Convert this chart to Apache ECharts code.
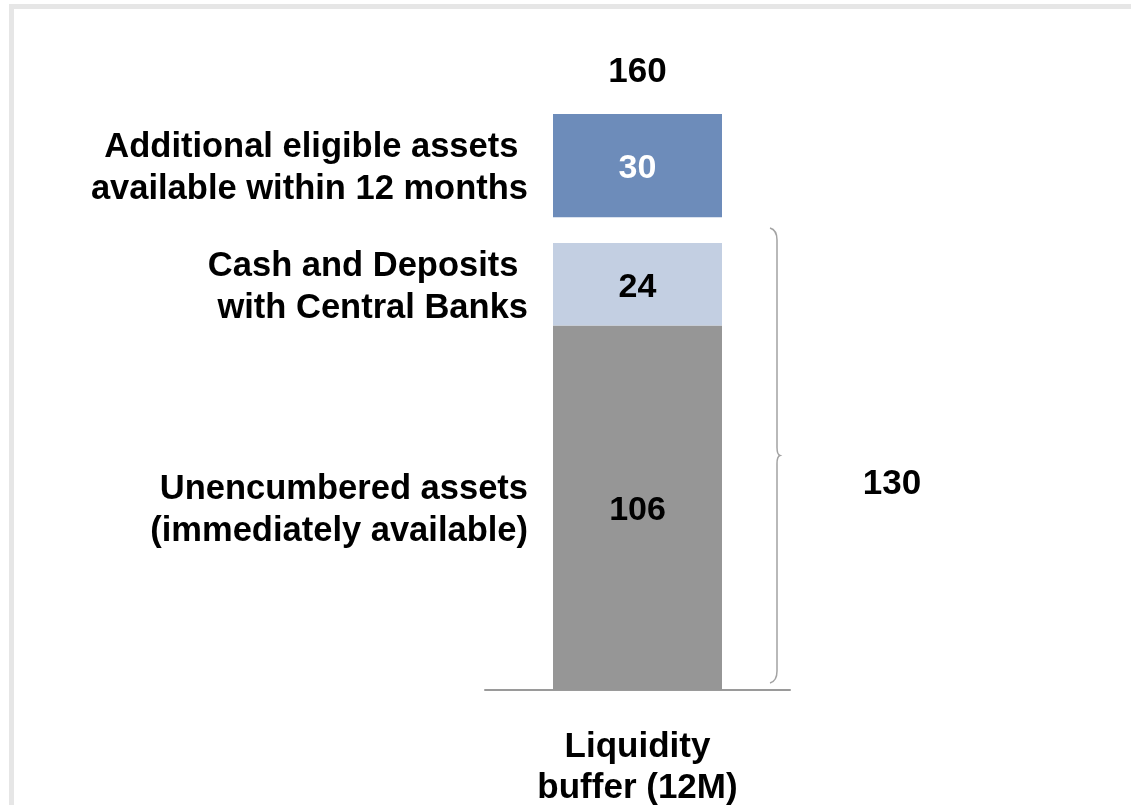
<!DOCTYPE html>
<html>
<head>
<meta charset="utf-8">
<script src="https://cdn.jsdelivr.net/npm/echarts@6/dist/echarts.min.js"></script>
<style>
  html, body { margin: 0; padding: 0; background: #fff; }
  #chart { width: 1131px; height: 805px; }
</style>
</head>
<body>
<div id="chart"></div>
<script>
// data
const categories = ['Liquidity\nbuffer (12M)']
const unencumbered = [106]
const cashDeposits = [24]
const additional = [30]
const segmentNames = [
  'Unencumbered assets\n(immediately available)',
  'Cash and Deposits \nwith Central Banks',
  'Additional eligible assets \navailable within 12 months'
]

// layout
const FONT = "'Liberation Sans', Arial, sans-serif"
const BAR_W = 169
const GAP = 7.5

const baseTotal = unencumbered.map((v, i) => v + cashDeposits[i])
const grandTotal = baseTotal.map((v, i) => v + additional[i])

const valueLabel = color => ({
  show: true,
  position: 'inside',
  offset: [0, 3],
  color: color,
  fontFamily: FONT,
  fontWeight: 'bold',
  fontSize: 34
})

const txt = (x, y, text, align, size) => ({
  type: 'text',
  style: {
    x: x, y: y + 3, text: text,
    fill: '#000',
    font: 'bold ' + size + 'px ' + FONT,
    lineHeight: 42,
    align: align,
    verticalAlign: 'middle'
  }
})

function renderNotes (params, api) {
  const i = params.dataIndex
  const c0 = api.coord([i, 0])
  const c1 = api.coord([i, unencumbered[i]])
  const c2 = api.coord([i, baseTotal[i]])
  const c3 = api.coord([i, baseTotal[i] + GAP])
  const c4 = api.coord([i, baseTotal[i] + GAP + additional[i]])
  const cx = c0[0]
  const left = cx - BAR_W / 2 - 25

  // brace
  const xb = cx + BAR_W / 2 + 55
  const yt = c2[1] - 15
  const yb = c0[1] - 7
  const ym = (yt + yb) / 2
  const d = [
    'M', xb - 7, yt, 'Q', xb, yt + 2, xb, yt + 12,
    'L', xb, ym - 8, 'Q', xb, ym - 1, xb + 3, ym,
    'Q', xb, ym + 1, xb, ym + 8,
    'L', xb, yb - 12, 'Q', xb, yb - 2, xb - 7, yb
  ].join(' ')

  return {
    type: 'group',
    children: [
      txt(left, (c0[1] + c1[1]) / 2, segmentNames[0], 'right', 34.5),
      txt(left, (c1[1] + c2[1]) / 2, segmentNames[1], 'right', 34.5),
      txt(left, (c3[1] + c4[1]) / 2, segmentNames[2], 'right', 34.5),
      txt(cx, c4[1] - 45, String(grandTotal[i]), 'center', 35),
      txt(cx + 254.5, ym + 26, String(baseTotal[i]), 'center', 35),
      {
        type: 'path',
        shape: { pathData: d },
        style: { stroke: '#a3a3a3', lineWidth: 1.5, fill: 'none' }
      }
    ]
  }
}

const chart = echarts.init(document.getElementById('chart'))
chart.setOption({
  animation: false,
  backgroundColor: '#fff',
  graphic: [
    { type: 'rect', shape: { x: 9, y: 4, width: 1122, height: 5 }, style: { fill: '#e6e6e6' } },
    { type: 'rect', shape: { x: 9, y: 4, width: 5, height: 801 }, style: { fill: '#e6e6e6' } }
  ],
  grid: { left: 485, right: 341, top: 71, bottom: 115, outerBoundsMode: 'none', containLabel: false },
  xAxis: {
    type: 'category',
    data: categories,
    axisLine: { lineStyle: { color: '#9a9a9a', width: 2 } },
    axisTick: { show: false },
    axisLabel: {
      color: '#000',
      fontFamily: FONT,
      fontWeight: 'bold',
      fontSize: 35,
      lineHeight: 41,
      margin: 37
    }
  },
  yAxis: { type: 'value', min: 0, max: 180, show: false },
  series: [
    {
      name: 'Unencumbered assets',
      type: 'bar', stack: 'buffer', barWidth: BAR_W,
      data: unencumbered,
      itemStyle: { color: '#969696' },
      label: valueLabel('#000')
    },
    {
      name: 'Cash and Deposits with Central Banks',
      type: 'bar', stack: 'buffer', barWidth: BAR_W,
      data: cashDeposits,
      itemStyle: { color: '#c3cfe2' },
      label: valueLabel('#000')
    },
    {
      name: 'gap',
      type: 'bar', stack: 'buffer', barWidth: BAR_W,
      data: categories.map(() => GAP),
      itemStyle: { color: 'rgba(0,0,0,0)' },
      silent: true
    },
    {
      name: 'Additional eligible assets',
      type: 'bar', stack: 'buffer', barWidth: BAR_W,
      data: additional,
      itemStyle: { color: '#6d8cba' },
      label: valueLabel('#fff')
    },
    {
      type: 'custom',
      renderItem: renderNotes,
      data: categories.map((c, i) => [i, grandTotal[i]]),
      silent: true,
      z: 5
    }
  ]
})
</script>
</body>
</html>
